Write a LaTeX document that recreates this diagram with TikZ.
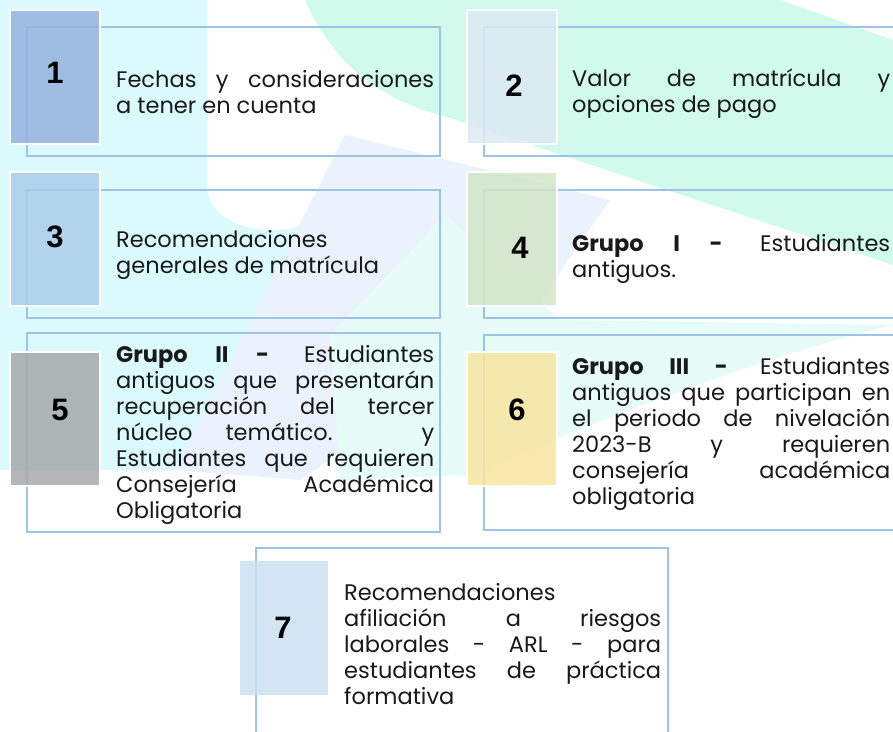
\documentclass[tikz,border=0pt]{standalone}
\usepackage{fontspec}
\setmainfont{Poppins}
\newfontfamily\numfont{Liberation Sans}

\definecolor{frameblue}{HTML}{9DC3E6}
\definecolor{sqone}{HTML}{95B3DF}
\definecolor{sqtwo}{HTML}{DCE9F3}
\definecolor{sqthree}{HTML}{AACDE9}
\definecolor{sqfour}{HTML}{D3E5C9}
\definecolor{sqfive}{HTML}{A7AAAB}
\definecolor{sqsix}{HTML}{F8E5A0}
\definecolor{sqseven}{HTML}{CBDFF1}
\definecolor{wmcyan}{HTML}{DAFAFD}
\definecolor{wmmint}{HTML}{D0FAEB}
\definecolor{wmblue}{HTML}{EAF3FD}
\definecolor{wmpale}{HTML}{E6FCF6}

% justified block of item text
\newcommand\itembody[2][318pt]{\parbox{#1}{\hyphenpenalty=10000\relax #2}}

\begin{document}
\begin{tikzpicture}[
  x=1pt, y=-1pt,
  itemframe/.style={
    draw=frameblue,
    line width=1.2pt,
    inner sep=0pt
  },
  itemsq/.style={
    draw=white,
    line width=2pt,
    fill opacity=.85,
    minimum width=90pt,
    minimum height=134pt,
    inner sep=0pt
  },
  itemnum/.style={
    font=\numfont\bfseries\fontsize{31}{33}\selectfont
  },
  itemtext/.style={
    anchor=west,
    inner sep=0pt,
    text=black!90,
    font=\fontsize{22.5}{26}\selectfont
  },
]
\useasboundingbox (0,0) rectangle (893,731);
\clip (0,0) rectangle (893,731);
% watermark
\fill[wmcyan] (0,0) -- (207,0) -- (207,185)
  .. controls (207,245) and (336,245) .. (336,185)
  -- (345,135) -- (175,470) -- (0,470) -- cycle;
\fill[wmblue] (345,135) -- (610,200) -- (520,330) -- (300,480)
  -- (175,470) -- cycle;
\fill[wmmint] (305,0) .. controls (340,80) and (400,105) .. (450,118)
  -- (893,265) -- (893,40) -- (780,0) -- cycle;
\fill[wmpale] (330,335) -- (445,215) -- (560,320) -- (893,325)
  .. controls (750,360) and (600,420) .. (470,475) -- (340,480) -- cycle;

% frames
\node[itemframe, minimum width=413pt, minimum height=129pt] (f1) at (233.5,91.5) {};
\node[itemframe, minimum width=416pt, minimum height=129pt] (f2) at (692,91.5) {};
\node[itemframe, minimum width=413pt, minimum height=128pt] (f3) at (233.5,254) {};
\node[itemframe, minimum width=416pt, minimum height=128pt] (f4) at (692,254) {};
\node[itemframe, minimum width=413pt, minimum height=199pt] (f5) at (233.5,432.5) {};
\node[itemframe, minimum width=416pt, minimum height=195pt] (f6) at (692,432.5) {};
\node[itemframe, minimum width=412pt, minimum height=192pt] (f7) at (462,644) {};

% squares
\node[itemsq, fill=sqone] (s1) at (55,77) {};
\node[itemsq, fill=sqtwo] (s2) at (512,77) {};
\node[itemsq, fill=sqthree] (s3) at (55,239) {};
\node[itemsq, fill=sqfour] (s4) at (512,239) {};
\node[itemsq, fill=sqfive] (s5) at (55,418.5) {};
\node[itemsq, fill=sqsix] (s6) at (512,418.5) {};
\node[itemsq, fill=sqseven, draw=none, minimum width=88pt] (s7) at (283.5,628) {};

\node[itemnum] (n1) at (55,73) {1};
\node[itemnum] (n2) at (514,86) {2};
\node[itemnum] (n3) at (55,237) {3};
\node[itemnum] (n4) at (520,248) {4};
\node[itemnum] (n5) at (60,410) {5};
\node[itemnum] (n6) at (517,410) {6};
\node[itemnum] (n7) at (283,628) {7};

% texts
\node[itemtext] (t1) at (116,92) {\itembody{Fechas y consideraciones\linebreak a tener en cuenta}};
\node[itemtext] (t2) at (572,94) {\itembody{Valor de matrícula y\linebreak opciones de pago}};
\node[itemtext] (t3) at (116,255) {\itembody{Recomendaciones\newline generales de matrícula}};
\node[itemtext] (t4) at (572,259) {\itembody{\textbf{Grupo I -} Estudiantes\linebreak antiguos.}};
\node[itemtext] (t5) at (116,435) {\itembody{\textbf{Grupo II -} Estudiantes\linebreak
  antiguos que presentarán\linebreak recuperación del tercer\linebreak
  núcleo temático. y\linebreak Estudiantes que requieren\linebreak
  Consejería Académica\linebreak Obligatoria}};
\node[itemtext] (t6) at (572,434) {\itembody{\textbf{Grupo III -} Estudiantes\linebreak
  antiguos que participan en\linebreak el periodo de nivelación\linebreak
  2023-B y requieren\linebreak consejería académica\linebreak obligatoria}};
\node[itemtext] (t7) at (344,644) {\itembody[317pt]{Recomendaciones\newline
  afiliación a riesgos\linebreak laborales - ARL - para\linebreak
  estudiantes de práctica\linebreak formativa}};
\end{tikzpicture}
\end{document}
